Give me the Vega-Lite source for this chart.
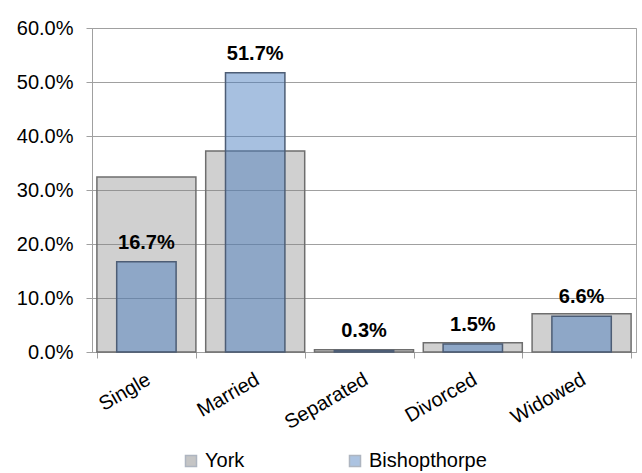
{
  "$schema": "https://vega.github.io/schema/vega-lite/v6.json",
  "width": 544,
  "height": 324,
  "autosize": {"type": "none"},
  "padding": {"left": 92, "top": 28, "right": 6, "bottom": 121},
  "background": "white",
  "config": {"font": "Liberation Sans", "view": {"stroke": "#a6a6a6", "strokeWidth": 1}},
  "data": {
    "values": [
      {"status": "Single", "area": "York", "value": 0.324},
      {"status": "Married", "area": "York", "value": 0.372},
      {"status": "Separated", "area": "York", "value": 0.004},
      {"status": "Divorced", "area": "York", "value": 0.017},
      {"status": "Widowed", "area": "York", "value": 0.071},
      {"status": "Single", "area": "Bishopthorpe", "value": 0.167},
      {"status": "Married", "area": "Bishopthorpe", "value": 0.517},
      {"status": "Separated", "area": "Bishopthorpe", "value": 0.003},
      {"status": "Divorced", "area": "Bishopthorpe", "value": 0.015},
      {"status": "Widowed", "area": "Bishopthorpe", "value": 0.066}
    ]
  },
  "encoding": {
    "x": {
      "field": "status", "type": "nominal",
      "sort": ["Single", "Married", "Separated", "Divorced", "Widowed"],
      "title": null,
      "scale": {"paddingInner": 0.09, "paddingOuter": 0.045},
      "axis": {
        "labelAngle": -30, "labelAlign": "right", "labelBaseline": "top",
        "labelFontSize": 20, "labelColor": "black", "labelPadding": 11, "labelOffset": -3,
        "tickBand": "extent", "tickSize": 6, "tickColor": "#a0a0a0",
        "domainColor": "#a0a0a0", "grid": false
      }
    },
    "y": {
      "field": "value", "type": "quantitative",
      "scale": {"domain": [0, 0.6]},
      "title": null,
      "axis": {
        "format": ".1%", "values": [0, 0.1, 0.2, 0.3, 0.4, 0.5, 0.6],
        "labelFontSize": 20, "labelColor": "black", "labelPadding": 13,
        "tickSize": 6, "tickColor": "#a0a0a0", "domainColor": "#a0a0a0",
        "grid": true, "gridColor": "#a0a0a0"
      }
    }
  },
  "layer": [
    {
      "transform": [{"filter": "datum.area === 'York'"}],
      "mark": {"type": "bar", "fillOpacity": 0.37, "stroke": "#6e6e6e", "strokeWidth": 1.5},
      "encoding": {
        "color": {
          "field": "area", "type": "nominal",
          "scale": {"domain": ["York", "Bishopthorpe"], "range": ["#808080", "#487cbe"]},
          "legend": {
            "title": null, "orient": "none", "direction": "horizontal",
            "legendX": 89, "legendY": 423, "padding": 0,
            "labelFontSize": 20, "labelColor": "black", "labelOffset": 4,
            "symbolType": "square", "symbolSize": 121, "symbolStrokeWidth": 1.5,
            "symbolStrokeColor": "#333333",
            "symbolOpacity": 0.45,
            "columnPadding": 100
          }
        }
      }
    },
    {
      "transform": [{"filter": "datum.area === 'Bishopthorpe'"}],
      "mark": {"type": "bar", "fillOpacity": 0.48, "stroke": "#4d5d75", "strokeWidth": 1.5, "width": {"band": 0.6}},
      "encoding": {
        "color": {"field": "area", "type": "nominal"}
      }
    },
    {
      "transform": [{"filter": "datum.area === 'Bishopthorpe'"}],
      "mark": {"type": "text", "fontSize": 20, "fontWeight": "bold", "color": "black", "baseline": "alphabetic", "dy": -13},
      "encoding": {
        "text": {"field": "value", "type": "quantitative", "format": ".1%"}
      }
    }
  ]
}
